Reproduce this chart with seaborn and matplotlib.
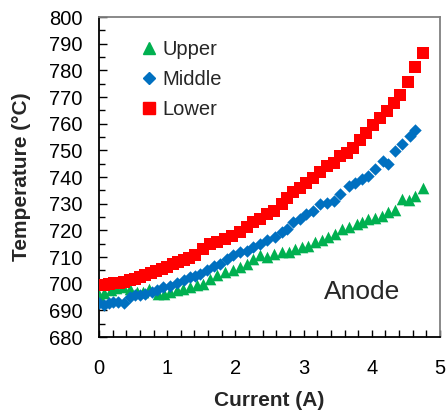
import matplotlib
matplotlib.use("Agg")
import matplotlib.pyplot as plt
from matplotlib.ticker import MultipleLocator
from matplotlib.lines import Line2D
import seaborn as sns
import pandas as pd

# Anode temperatures (deg C) against cell current (A) at three heights
upper_current = [0.00, 0.07, 0.17, 0.25, 0.35, 0.45, 0.55, 0.65, 0.73, 0.86, 0.95,
                 1.04, 1.14, 1.23, 1.33, 1.43, 1.53, 1.63, 1.73, 1.85, 1.97, 2.07,
                 2.17, 2.26, 2.36, 2.46, 2.56, 2.68, 2.78, 2.87, 2.97, 3.07, 3.17,
                 3.27, 3.36, 3.46, 3.56, 3.66, 3.78, 3.85, 3.95, 4.05, 4.15, 4.24,
                 4.34, 4.44, 4.54, 4.63, 4.75]
upper_temp = [695.7, 696.6, 697.5, 698.3, 698.6, 698.1, 696.9, 696.9, 698.1, 696.3, 696.3,
              696.9, 697.5, 698.1, 698.7, 699.4, 700.0, 701.9, 703.1, 704.3, 705.0, 706.2,
              707.5, 709.3, 710.6, 710.0, 711.2, 711.8, 711.8, 713.1, 713.7, 714.3, 715.5,
              716.2, 717.4, 718.6, 720.5, 721.1, 722.4, 723.0, 724.2, 724.8, 725.5, 726.7,
              727.6, 731.7, 731.3, 733.0, 736.0]

middle_current = [0.00, 0.07, 0.14, 0.21, 0.28, 0.37, 0.45, 0.53, 0.60, 0.67, 0.77,
                  0.85, 0.94, 1.04, 1.14, 1.24, 1.34, 1.41, 1.48, 1.58, 1.68, 1.77,
                  1.87, 1.97, 2.07, 2.17, 2.26, 2.36, 2.46, 2.58, 2.68, 2.75, 2.85,
                  2.95, 3.04, 3.14, 3.24, 3.34, 3.44, 3.53, 3.66, 3.75, 3.85, 3.95,
                  4.05, 4.17, 4.24, 4.34, 4.44, 4.56, 4.63]
middle_temp = [692.6, 691.9, 692.8, 693.2, 693.2, 692.8, 695.0, 695.7, 695.7, 696.3, 696.9,
               697.5, 698.7, 699.0, 700.2, 701.5, 702.5, 703.0, 703.7, 705.0, 706.8, 707.5,
               709.3, 710.6, 711.8, 712.4, 713.7, 714.9, 716.2, 717.4, 719.3, 720.5, 723.0,
               724.2, 726.1, 727.3, 729.8, 730.4, 731.0, 733.5, 736.6, 737.9, 739.1, 740.4,
               742.9, 746.0, 744.7, 749.7, 752.2, 755.3, 757.7]

lower_current = [0.00, 0.07, 0.15, 0.22, 0.30, 0.37, 0.45, 0.53, 0.60, 0.68, 0.76,
                 0.84, 0.92, 1.00, 1.08, 1.16, 1.24, 1.32, 1.41, 1.53, 1.63, 1.73,
                 1.85, 1.95, 2.07, 2.17, 2.26, 2.36, 2.46, 2.56, 2.68, 2.75, 2.85,
                 2.95, 3.04, 3.14, 3.24, 3.34, 3.44, 3.53, 3.63, 3.73, 3.83, 3.91,
                 4.02, 4.12, 4.23, 4.33, 4.42, 4.53, 4.63, 4.75]
lower_temp = [699.5, 699.6, 699.8, 700.1, 700.4, 700.8, 701.3, 701.9, 702.5, 703.2, 704.0,
              704.8, 705.6, 706.4, 707.2, 708.0, 708.9, 709.8, 710.8, 713.1, 714.9, 715.5,
              716.8, 718.0, 719.2, 721.1, 723.0, 724.2, 726.1, 727.3, 730.0, 732.3, 734.2,
              736.0, 737.9, 739.7, 742.0, 744.1, 745.3, 747.8, 749.0, 750.9, 754.0, 756.5,
              759.6, 762.1, 764.6, 767.7, 770.8, 775.8, 781.4, 786.6]

series_names = ["Upper", "Middle", "Lower"]
series_colors = ["#00B050", "#0070C0", "#FF0000"]
series_markers = ["^", "D", "s"]
series_sizes = [70, 40, 72]

sns.set_theme(style="white")
plt.rcParams["font.family"] = ["Liberation Sans", "DejaVu Sans"]

fig = plt.figure(figsize=(4.46, 4.19), dpi=100)
ax = fig.add_axes([0.222, 0.1957, 0.7645, 0.7637])

data = [(upper_current, upper_temp), (middle_current, middle_temp), (lower_current, lower_temp)]
for (cur, temp), name, col, mk, sz in zip(data, series_names, series_colors,
                                          series_markers, series_sizes):
    df = pd.DataFrame({"Current": cur, "Temperature": temp})
    sns.scatterplot(data=df, x="Current", y="Temperature", ax=ax, color=col,
                    marker=mk, s=sz, linewidth=0, legend=False, zorder=3)

ax.set_xlim(0, 5)
ax.set_ylim(680, 800)
ax.xaxis.set_major_locator(MultipleLocator(1))
ax.xaxis.set_minor_locator(MultipleLocator(0.2))
ax.yaxis.set_major_locator(MultipleLocator(10))
ax.yaxis.set_minor_locator(MultipleLocator(5))

ax.tick_params(axis="both", which="both", direction="in", colors="black",
               labelsize=14.5, width=1.0)
ax.tick_params(axis="y", which="major", length=6, pad=12)
ax.tick_params(axis="y", which="minor", length=4)
ax.tick_params(axis="x", which="both", length=5)
ax.tick_params(axis="x", which="major", pad=16)
ax.tick_params(bottom=True, left=True, which="both")

for side in ["left", "bottom"]:
    ax.spines[side].set_color("black")
    ax.spines[side].set_linewidth(1.3)
for side in ["top", "right"]:
    ax.spines[side].set_color("#808080")
    ax.spines[side].set_linewidth(1.3)

ax.set_xlabel("Current (A)", fontsize=15, fontweight="bold", labelpad=9)
ax.set_ylabel("Temperature (\u00b0C)", fontsize=15, fontweight="bold", labelpad=13)

handles = [Line2D([], [], linestyle="none", marker=mk, color=col, markersize=ms)
           for mk, col, ms in zip(series_markers, series_colors, [8, 6, 8])]
ax.legend(handles, series_names, loc="upper left", bbox_to_anchor=(0.07, 0.985),
          frameon=False, fontsize=14.5, handlelength=0.8, handletextpad=0.25,
          labelspacing=0.55)

ax.text(3.86, 697, "Anode", fontsize=19, ha="center", va="center")

fig.savefig("out.png", dpi=100)
